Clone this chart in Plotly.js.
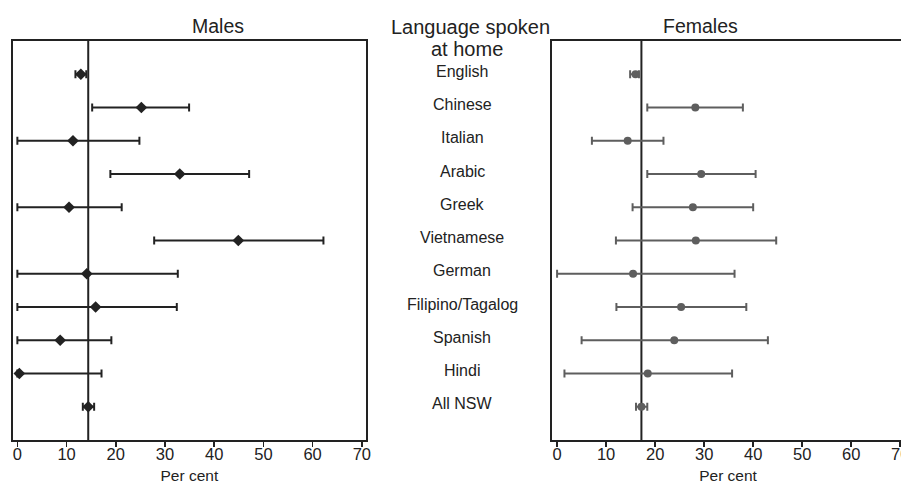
<!DOCTYPE html>
<html><head><meta charset="utf-8">
<script src="https://cdn.plot.ly/plotly-3.0.1.min.js"></script>
<style>html,body{margin:0;padding:0;overflow:hidden;background:#fff}#chart{width:910px;height:484px}</style>
</head><body><div id="chart"></div>
<script>
const languages = ["English","Chinese","Italian","Arabic","Greek","Vietnamese","German","Filipino/Tagalog","Spanish","Hindi","All NSW"];
const maleValue = [12.9, 25.2, 11.3, 33.0, 10.5, 44.9, 14.1, 15.9, 8.7, 0.4, 14.4];
const maleLow   = [11.8, 15.2, 0.0, 18.9, 0.0, 27.8, 0.0, 0.0, 0.0, 0.0, 13.3];
const maleHigh  = [14.0, 34.9, 24.8, 47.1, 21.2, 62.2, 32.6, 32.4, 19.1, 17.1, 15.6];
const femaleValue = [16.0, 28.2, 14.4, 29.4, 27.7, 28.3, 15.5, 25.3, 23.9, 18.5, 17.2];
const femaleLow   = [14.9, 18.4, 7.1, 18.4, 15.4, 12.0, 0.0, 12.1, 5.0, 1.5, 16.1];
const femaleHigh  = [16.7, 37.9, 21.7, 40.5, 40.0, 44.7, 36.2, 38.6, 43.0, 35.7, 18.4];
const xTicks = [0,10,20,30,40,50,60,70];

const W = 910;
const dark = '#222222', grey = '#5e5e5e';
const font = 'Liberation Sans, Arial, Helvetica, sans-serif';

function errs(v, lo, hi, color){
  return {type:'data', symmetric:false,
    array: hi.map((h,i)=>h-v[i]), arrayminus: lo.map((l,i)=>v[i]-l),
    color: color, thickness: 2, width: 4};
}

const traces = [
  {type:'scatter', mode:'markers', x: maleValue, y: languages, xaxis:'x', yaxis:'y',
   marker:{symbol:'diamond', size:9, color:dark}, error_x: errs(maleValue, maleLow, maleHigh, dark),
   showlegend:false, hoverinfo:'x+y'},
  {type:'scatter', mode:'markers', x: femaleValue, y: languages, xaxis:'x2', yaxis:'y2',
   marker:{symbol:'circle', size:8, color:grey}, error_x: errs(femaleValue, femaleLow, femaleHigh, grey),
   showlegend:false, hoverinfo:'x+y'}
];

const xBase = {range:[-0.95,70.85], tickvals:xTicks, ticktext:xTicks.map(String), ticks:'outside', ticklen:5, tickwidth:1.5,
  tickcolor:dark, showline:true, mirror:true, linecolor:dark, linewidth:2, showgrid:false, zeroline:false,
  ticklabelstandoff:-7,
  tickfont:{family:font, size:16.5, color:dark},
  title:{text:'Per cent', font:{family:font, size:15.5, color:dark}, standoff:10}};
const yBase = {type:'category', categoryorder:'array', categoryarray:languages, range:[11,-1],
  showticklabels:false, ticks:'', showline:true, mirror:true, linecolor:dark, linewidth:2, showgrid:false, zeroline:false};

const annotations = [
  {text:'Males', xref:'paper', yref:'paper', x:190/W, y:1, yanchor:'bottom', yshift:2, showarrow:false,
   font:{family:font, size:19.5, color:dark}},
  {text:'Females', xref:'paper', yref:'paper', x:(551.7+188)/W, y:1, yanchor:'bottom', yshift:2, showarrow:false,
   font:{family:font, size:19.5, color:dark}},
  {text:'Language spoken', xref:'paper', yref:'paper', x:470/W, y:1, yanchor:'bottom', yshift:1, showarrow:false,
   font:{family:font, size:20, color:dark}},
  {text:'at home', xref:'paper', yref:'paper', x:467/W, y:1, yanchor:'bottom', yshift:-21, showarrow:false,
   font:{family:font, size:20, color:dark}}
].concat(languages.map(l=>({text:l, xref:'paper', yref:'y', x:462/W, y:l, yshift:3, showarrow:false,
   font:{family:font, size:16, color:dark}})));

const shapes = [
  {type:'line', xref:'x', yref:'y domain', x0:maleValue[10], x1:maleValue[10], y0:0, y1:1, layer:'below',
   line:{color:dark, width:2}},
  {type:'line', xref:'x2', yref:'y2 domain', x0:femaleValue[10], x1:femaleValue[10], y0:0, y1:1, layer:'below',
   line:{color:dark, width:2}}
];

const layout = {
  width: W, height: 484,
  margin:{l:0, r:0, t:40.5, b:44},
  paper_bgcolor:'#fff', plot_bgcolor:'#fff',
  xaxis: Object.assign({}, xBase, {domain:[12.7/W, 366/W], anchor:'y'}),
  yaxis: Object.assign({}, yBase, {anchor:'x'}),
  xaxis2: Object.assign({}, xBase, {domain:[551.7/W, 904.4/W], anchor:'y2', range:[-1.1,70.85]}),
  yaxis2: Object.assign({}, yBase, {anchor:'x2'}),
  annotations: annotations,
  shapes: shapes,
  font:{family:font, color:dark}
};

Plotly.newPlot('chart', traces, layout, {displayModeBar:false, staticPlot:true});
</script>
</body></html>
